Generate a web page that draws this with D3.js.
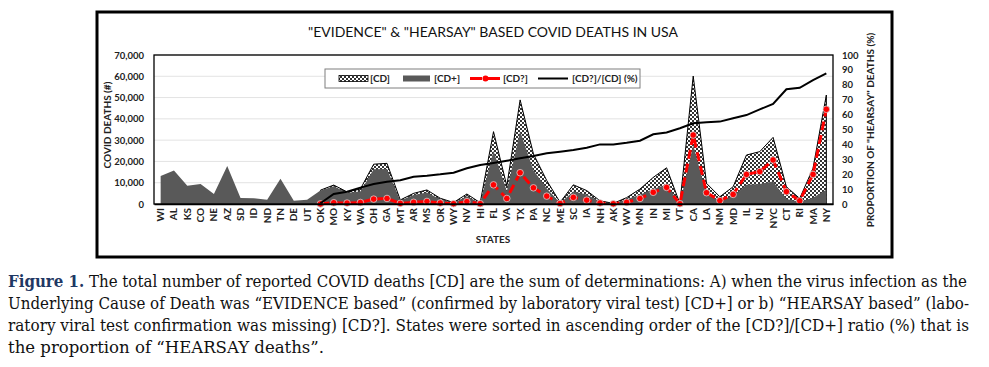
<!DOCTYPE html>
<html><head><meta charset="utf-8">
<script src="https://cdn.jsdelivr.net/npm/d3@7"></script>
<style>body{margin:0;background:#fff}svg{display:block}</style>
</head><body>
<svg id="c" width="989" height="367"></svg>
<script>
const states = ["WI","AL","KS","CO","NE","AZ","SD","ID","ND","TN","DE","UT","OK","MO","KY","WA","OH","GA","MT","AR","MS","OR","WY","NV","HI","FL","VA","TX","PA","NC","ME","SC","IA","NH","AK","WV","MN","IN","MI","VT","CA","LA","NM","MD","IL","NJ","NYC","CT","RI","MA","NY"];
// [CD] total reported deaths
const cdTotal = [null,null,null,null,null,null,null,null,null,null,null,null,6500,8900,5700,7000,18700,19100,1900,5000,6600,2700,700,4700,600,34000,8500,48900,23500,11000,800,9000,6300,1500,300,3000,7000,12500,17000,250,60100,9700,3400,8100,23000,24600,31300,8100,2600,16800,51200];
// [CD+] evidence based
const cdPlus = [13100,15700,8600,9400,4700,17900,2800,2700,2000,11900,1500,2000,6400,8300,5300,5900,16300,16500,1600,4200,5400,2200,550,3600,450,25000,6000,34200,15900,7300,500,5900,4500,1000,200,2200,4300,7000,9200,120,27700,4400,1800,3600,9100,9400,10600,2300,1100,2900,6700];
// [CD?] hearsay based
const cdHearsay = [null,null,null,null,null,null,null,null,null,null,null,null,50,600,450,700,2300,2600,300,800,1200,500,150,1100,150,9000,2600,14700,7600,3700,250,3100,1800,500,100,800,2600,5500,7800,120,32400,5300,1600,4500,13900,15200,20700,5800,1500,13900,44500];
// [CD?]/[CD] (%)
const ratioPct = [null,null,null,null,null,null,null,null,null,null,null,null,0.5,6.7,8.2,11,13.4,15,16,18.3,19,19.9,21,24,26.2,27.5,29,30.7,32.2,34,35.1,36.2,37.8,40,40,41.1,42.5,46.8,48,50.8,54.2,54.8,55.3,57.5,59.7,63.5,67.1,77,78,83.2,87.7];
const leftTicks = [0,10000,20000,30000,40000,50000,60000,70000];
const rightTicks = [0,10,20,30,40,50,60,70,80,90,100];
const titleText = "\"EVIDENCE\" & \"HEARSAY\" BASED COVID DEATHS IN USA";
const legendLabels = ["[CD]","[CD+]","[CD?]","[CD?]/[CD] (%)"];
const captionLines = [
 [["Figure 1.", true], [" The total number of reported COVID deaths [CD] are the sum of determinations: A) when the virus infection as the", false]],
 [["Underlying Cause of Death was \u201cEVIDENCE based\u201d (confirmed by laboratory viral test) [CD+] or b) \u201cHEARSAY based\u201d (labo-", false]],
 [["ratory viral test confirmation was missing) [CD?]. States were sorted in ascending order of the [CD?]/[CD+] ratio (%) that is", false]],
 [["the proportion of \u201cHEARSAY deaths\u201d.", false]]
];

const svg = d3.select("#c");
const L = 154, R = 833, T = 55, B = 204;
const font = "Lato, 'Open Sans', sans-serif";

const defs = svg.append("defs");
const pat = defs.append("pattern").attr("id","hatch").attr("patternUnits","userSpaceOnUse")
  .attr("width",4).attr("height",4);
pat.append("rect").attr("width",4).attr("height",4).attr("fill","#ffffff");
pat.append("rect").attr("x",0).attr("y",0).attr("width",2).attr("height",2).attr("fill","#333");
pat.append("rect").attr("x",2).attr("y",2).attr("width",2).attr("height",2).attr("fill","#333");

// outer frame
svg.append("rect").attr("x",97).attr("y",12).attr("width",795).attr("height",245)
  .attr("fill","#fff").attr("stroke","#000").attr("stroke-width",3);

const x = d3.scaleBand().domain(states).range([L,R]).padding(0);
const xc = s => x(s) + x.bandwidth()/2;
const y = d3.scaleLinear().domain([0,70000]).range([B,T]);
const y2 = d3.scaleLinear().domain([0,100]).range([B,T]);

// gridlines
svg.append("g").selectAll("line").data(leftTicks.slice(1)).join("line")
  .attr("x1",L).attr("x2",R).attr("y1",d=>y(d)).attr("y2",d=>y(d))
  .attr("stroke","#e3e3e3").attr("stroke-width",1);

const rows = states.map((s,i)=>({s, cd:cdTotal[i], cp:cdPlus[i], cq:cdHearsay[i], r:ratioPct[i]}));

// [CD] area
const aCD = d3.area().defined(d=>d.cd!=null).x(d=>xc(d.s)).y0(y(0)).y1(d=>y(d.cd));
svg.append("path").datum(rows).attr("d",aCD).attr("fill","url(#hatch)")
  .attr("stroke","#000").attr("stroke-width",1);
// [CD+] area
const aCP = d3.area().x(d=>xc(d.s)).y0(y(0)).y1(d=>y(d.cp));
svg.append("path").datum(rows).attr("d",aCP).attr("fill","#595959");

// [CD?] line
const lQ = d3.line().defined(d=>d.cq!=null).x(d=>xc(d.s)).y(d=>y(d.cq));
svg.append("path").datum(rows).attr("d",lQ).attr("fill","none")
  .attr("stroke","#ff0000").attr("stroke-width",3).attr("stroke-dasharray","9,5");
svg.append("g").selectAll("circle").data(rows.filter(d=>d.cq!=null)).join("circle")
  .attr("cx",d=>xc(d.s)).attr("cy",d=>y(d.cq)).attr("r",3.3)
  .attr("fill","#ff0000").attr("stroke","#d0d0d0").attr("stroke-width",0.8);

// ratio line
const lR = d3.line().defined(d=>d.r!=null).x(d=>xc(d.s)).y(d=>y2(d.r));
svg.append("path").datum(rows).attr("d",lR).attr("fill","none")
  .attr("stroke","#000").attr("stroke-width",2);

// plot border
svg.append("rect").attr("x",L).attr("y",T).attr("width",R-L).attr("height",B-T)
  .attr("fill","none").attr("stroke","#000").attr("stroke-width",1.3);

// left axis
const gl = svg.append("g").attr("transform",`translate(${L},0)`)
  .call(d3.axisLeft(y).tickValues(leftTicks).tickFormat(d3.format(",")).tickSize(0).tickPadding(10));
gl.select(".domain").remove();
gl.selectAll("text").attr("font-family",font).attr("font-size",9.5).attr("font-weight","bold").attr("fill","#222");

// right axis
const gr = svg.append("g").attr("transform",`translate(${R},0)`)
  .call(d3.axisRight(y2).tickValues(rightTicks).tickSize(0).tickPadding(9));
gr.select(".domain").remove();
gr.selectAll("text").attr("font-family",font).attr("font-size",9.5).attr("font-weight","bold").attr("fill","#222");

// x axis
const gx = svg.append("g").attr("transform",`translate(0,${B})`)
  .call(d3.axisBottom(x).tickSize(0).tickPadding(0));
gx.select(".domain").attr("stroke","#000").attr("stroke-width",1.5);
gx.selectAll("text").attr("font-family",font).attr("font-size",10).attr("font-weight","bold").attr("fill","#222")
  .attr("transform","rotate(-90)").attr("text-anchor","end").attr("x",-4).attr("y",0).attr("dy","0.35em");

// axis titles
svg.append("text").attr("transform","translate(111,125) rotate(-90)").attr("text-anchor","middle")
  .attr("font-family",font).attr("font-size",10).attr("font-weight","bold").attr("fill","#222").text("COVID DEATHS (#)");
svg.append("text").attr("transform","translate(874,130) rotate(-90)").attr("text-anchor","middle")
  .attr("font-family",font).attr("font-size",10).attr("font-weight","bold").attr("fill","#222").text("PROPORTION OF \"HEARSAY\" DEATHS (%)");
svg.append("text").attr("x",493).attr("y",243).attr("text-anchor","middle")
  .attr("font-family",font).attr("font-size",10).attr("font-weight","bold").attr("fill","#222").text("STATES");

// title
svg.append("text").attr("x",493).attr("y",37).attr("text-anchor","middle")
  .attr("font-family",font).attr("font-size",13.5).attr("fill","#111")
  .attr("textLength",370).attr("lengthAdjust","spacingAndGlyphs").text(titleText);

// legend
const lg = svg.append("g");
lg.append("rect").attr("x",325).attr("y",69).attr("width",315).attr("height",19)
  .attr("fill","#fff").attr("stroke","#7f7f7f").attr("stroke-width",1);
const ly = 78.5;
lg.append("rect").attr("x",339).attr("y",ly-3).attr("width",29).attr("height",6)
  .attr("fill","url(#hatch)").attr("stroke","#000").attr("stroke-width",0.8);
lg.append("rect").attr("x",403).attr("y",ly-3).attr("width",27).attr("height",6).attr("fill","#595959");
lg.append("line").attr("x1",470).attr("x2",501).attr("y1",ly).attr("y2",ly)
  .attr("stroke","#ff0000").attr("stroke-width",3).attr("stroke-dasharray","12,6");
lg.append("circle").attr("cx",485.5).attr("cy",ly).attr("r",3).attr("fill","#ff0000");
lg.append("line").attr("x1",538).attr("x2",568).attr("y1",ly).attr("y2",ly)
  .attr("stroke","#000").attr("stroke-width",2);
const lx = [370,434,503,572];
lg.selectAll("text.l").data(legendLabels).join("text").attr("class","l")
  .attr("x",(d,i)=>lx[i]).attr("y",ly).attr("dy","0.35em")
  .attr("font-family",font).attr("font-size",10).attr("font-weight","bold").attr("fill","#222").text(d=>d);

// caption
const capY = [287,309,331,353];
const capW = [959,961,961,316];
captionLines.forEach((parts,i)=>{
  const t = svg.append("text").attr("x",8).attr("y",capY[i])
    .attr("font-family","'DejaVu Serif',serif").attr("font-stretch","condensed")
    .attr("font-size",16.5).attr("fill","#111")
    .attr("textLength",capW[i]).attr("lengthAdjust","spacingAndGlyphs");
  parts.forEach(([txt,bold])=>{
    const ts = t.append("tspan").text(txt);
    if(bold) ts.attr("font-weight","bold").attr("fill","#1f3864");
  });
});
</script>
</body></html>
